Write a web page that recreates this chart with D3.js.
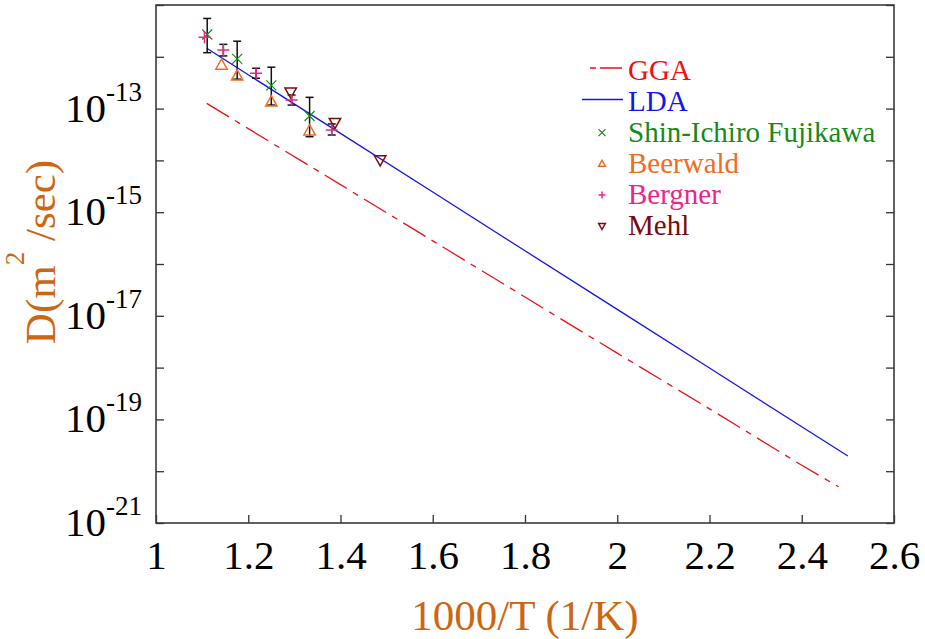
<!DOCTYPE html>
<html><head><meta charset="utf-8">
<script src="https://cdn.jsdelivr.net/npm/d3@7"></script>
<style>body{margin:0;background:#fff}svg{display:block}text{font-family:"Liberation Serif","Times New Roman",serif}</style>
</head><body>
<script>
// ---- data ----
const xTicks = [1, 1.2, 1.4, 1.6, 1.8, 2, 2.2, 2.4, 2.6];
const yTickExps = [-21, -20, -19, -18, -17, -16, -15, -14, -13, -12, -11];
const yLabelExps = [-21, -19, -17, -15, -13];

const ggaX = [1.11, 1.2, 1.4, 1.6, 1.8, 2.0, 2.2, 2.4, 2.48];
const ggaD = [1.26e-13, 4.1e-14, 3.4e-15, 2.8e-16, 2.3e-17, 1.9e-18, 1.6e-19, 1.3e-20, 5.0e-21];
const ldaX = [1.11, 1.2, 1.4, 1.6, 1.8, 2.0, 2.2, 2.4, 2.5];
const ldaD = [1.46e-12, 4.51e-13, 3.32e-14, 2.45e-15, 1.80e-16, 1.33e-17, 9.8e-19, 7.2e-20, 1.96e-20];

const fujiX = [1.111, 1.176, 1.25, 1.333];
const fujiD = [2.7e-12, 9.1e-13, 2.8e-13, 7.2e-14];
const fujiHi = [5.5e-12, 2.0e-12, 6.3e-13, 1.65e-13];
const fujiLo = [1.2e-12, 3.7e-13, 1.17e-13, 2.87e-14];

const beerX = [1.142, 1.176, 1.25, 1.333];
const beerD = [6.95e-13, 4.3e-13, 1.36e-13, 3.74e-14];

const bergX = [1.105, 1.146, 1.217, 1.294, 1.381];
const bergD = [2.38e-12, 1.35e-12, 4.8e-13, 1.47e-13, 3.86e-14];
const bergHi = [null, 1.74e-12, 6.0e-13, 1.83e-13, 5.05e-14];
const bergLo = [null, 1.04e-12, 3.85e-13, 1.17e-13, 3.09e-14];

const mehlX = [1.292, 1.388, 1.486];
const mehlD = [2.07e-13, 5.35e-14, 1.02e-14];

const legendNames = ["GGA", "LDA", "Shin-Ichiro Fujikawa", "Beerwald", "Bergner", "Mehl"];

// ---- drawing ----
const W = 925, H = 639;
const L = 156, R = 894, T = 5, B = 523;
const col = {gga:"#EE1111", lda:"#1414EE", fuji:"#178A17", beer:"#F26B21", berg:"#F0238A", mehl:"#7B0C0C", axis:"#CC6611"};

const svg = d3.select("body").append("svg").attr("width", W).attr("height", H);
const x = d3.scaleLinear().domain([1, 2.6]).range([L, R]);
const y = d3.scaleLog().domain([1e-21, 1e-11]).range([B, T]);

// axes
const gx = svg.append("g").attr("transform", `translate(0,${B})`)
  .call(d3.axisBottom(x).tickValues(xTicks).tickSizeInner(-8).tickSizeOuter(0).tickFormat(d3.format("~g")));
gx.select(".domain").remove();
gx.selectAll("line").attr("stroke", "#333").attr("stroke-width", 1.3);
gx.selectAll("text").attr("y", 46).attr("dy", null).attr("font-size", 41).attr("fill", "#000")
  .style("font-family", '"Liberation Serif",serif');

const yTickVals = yTickExps.map(e => Math.pow(10, e));
const gyl = svg.append("g").attr("transform", `translate(${L},0)`)
  .call(d3.axisLeft(y).tickValues(yTickVals).tickSizeInner(-8).tickSizeOuter(0).tickFormat(""));
gyl.select(".domain").remove();
gyl.selectAll("line").attr("stroke", "#333").attr("stroke-width", 1.3);
const gyr = svg.append("g").attr("transform", `translate(${R},0)`)
  .call(d3.axisRight(y).tickValues(yTickVals).tickSizeInner(-8).tickSizeOuter(0).tickFormat(""));
gyr.select(".domain").remove();
gyr.selectAll("line").attr("stroke", "#333").attr("stroke-width", 1.3);

svg.append("rect").attr("x", L).attr("y", T).attr("width", R - L).attr("height", B - T)
  .attr("fill", "none").attr("stroke", "#3a3a3a").attr("stroke-width", 1.6);

// y tick labels with superscripts
const yl = svg.append("g").selectAll("text").data(yLabelExps).join("text")
  .attr("x", 142).attr("y", d => y(Math.pow(10, d)) + 13).attr("text-anchor", "end").attr("fill", "#000");
yl.append("tspan").attr("font-size", 41).text("10");
yl.append("tspan").attr("font-size", 27).attr("dy", -21).text(d => String(d));

// axis titles
svg.append("text").attr("x", 525).attr("y", 630).attr("text-anchor", "middle")
  .attr("font-size", 43).attr("fill", col.axis).text("1000/T (1/K)");
const yt = svg.append("text").attr("transform", "translate(55,252) rotate(-90)")
  .attr("text-anchor", "middle").attr("fill", col.axis).attr("font-size", 43);
yt.append("tspan").text("D(m");
yt.append("tspan").attr("font-size", 27).attr("dy", -31).text("2");
yt.append("tspan").attr("dy", 31).text(" /sec)");

// lines
const line = d3.line().x(d => x(d[0])).y(d => y(d[1]));
svg.append("path").datum(ggaX.map((v, i) => [v, ggaD[i]])).attr("d", line)
  .attr("fill", "none").attr("stroke", col.gga).attr("stroke-width", 1.3).attr("stroke-dasharray", "26,7,6,7");
svg.append("path").datum(ldaX.map((v, i) => [v, ldaD[i]])).attr("d", line)
  .attr("fill", "none").attr("stroke", col.lda).attr("stroke-width", 1.3);

// error bars
function errBars(xs, hi, lo) {
  const g = svg.append("g").attr("stroke", "#111").attr("stroke-width", 1.5);
  xs.forEach((v, i) => {
    if (hi[i] == null) return;
    const cx = x(v), y1 = y(hi[i]), y2 = y(lo[i]);
    g.append("line").attr("x1", cx).attr("x2", cx).attr("y1", y1).attr("y2", y2);
    g.append("line").attr("x1", cx - 4).attr("x2", cx + 4).attr("y1", y1).attr("y2", y1);
    g.append("line").attr("x1", cx - 4).attr("x2", cx + 4).attr("y1", y2).attr("y2", y2);
  });
}
errBars(fujiX, fujiHi, fujiLo);
errBars(bergX, bergHi, bergLo);

// markers
function mark(g, type, cx, cy, s, c) {
  if (type === "x") {
    g.append("path").attr("d", `M${cx-s},${cy-s}L${cx+s},${cy+s}M${cx-s},${cy+s}L${cx+s},${cy-s}`)
      .attr("stroke", c).attr("stroke-width", 1.2).attr("fill", "none");
  } else if (type === "+") {
    g.append("path").attr("d", `M${cx-s},${cy}L${cx+s},${cy}M${cx},${cy-s}L${cx},${cy+s}`)
      .attr("stroke", c).attr("stroke-width", 1.5).attr("fill", "none");
  } else if (type === "up") {
    g.append("path").attr("d", `M${cx},${cy-s}L${cx+s*0.95},${cy+s*0.7}L${cx-s*0.95},${cy+s*0.7}Z`)
      .attr("stroke", c).attr("stroke-width", 1.5).attr("fill", "none");
  } else if (type === "down") {
    g.append("path").attr("d", `M${cx},${cy+s}L${cx+s*0.95},${cy-s*0.7}L${cx-s*0.95},${cy-s*0.7}Z`)
      .attr("stroke", c).attr("stroke-width", 1.5).attr("fill", "none");
  }
}
const gm = svg.append("g");
fujiX.forEach((v, i) => mark(gm, "x", x(v), y(fujiD[i]), 5, col.fuji));
beerX.forEach((v, i) => mark(gm, "up", x(v), y(beerD[i]), 6, col.beer));
mehlX.forEach((v, i) => mark(gm, "down", x(v), y(mehlD[i]), 6, col.mehl));
bergX.forEach((v, i) => mark(gm, "+", x(v), y(bergD[i]), 6, col.berg));

// legend
const lg = svg.append("g");
const lx = 628, lb0 = 79.5, ldy = 31.1;
const lcols = [col.gga, col.lda, col.fuji, col.beer, col.berg, col.mehl];
legendNames.forEach((n, i) => {
  lg.append("text").attr("x", lx).attr("y", lb0 + i * ldy).attr("font-size", 29).attr("fill", lcols[i]).text(n);
});
lg.append("line").attr("x1", 590).attr("x2", 622).attr("y1", 68).attr("y2", 68)
  .attr("stroke", col.gga).attr("stroke-width", 1.3).attr("stroke-dasharray", "6,4,22");
lg.append("line").attr("x1", 582).attr("x2", 623).attr("y1", 99.5).attr("y2", 99.5)
  .attr("stroke", col.lda).attr("stroke-width", 1.3);
const mtypes = ["x", "up", "+", "down"];
mtypes.forEach((t, k) => mark(lg, t, 602, lb0 + (k + 2) * ldy - 9, 3.5, lcols[k + 2]));
</script>
</body></html>
